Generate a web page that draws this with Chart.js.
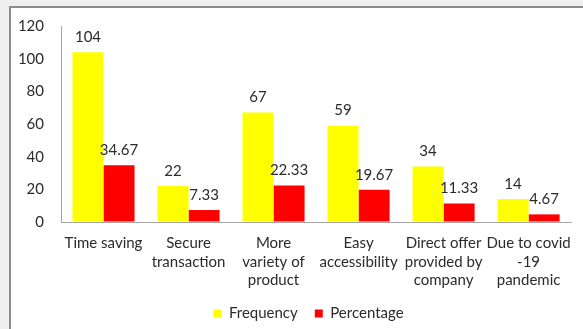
<!DOCTYPE html>
<html>
<head>
<meta charset="utf-8">
<script src="https://cdn.jsdelivr.net/npm/chart.js@4/dist/chart.umd.min.js"></script>
<style>
  html, body { margin: 0; padding: 0; width: 583px; height: 329px; overflow: hidden; background: #efefef; }
  #frame { position: absolute; left: 9px; top: 6px; width: 600px; height: 340px; background: #fff;
           border-top: 2px solid #8c8c8c; border-left: 2px solid #8c8c8c; box-sizing: border-box; }
  #wrap { position: absolute; left: 0; top: 0; width: 583px; height: 329px; }
</style>
</head>
<body>
<div id="frame"></div>
<div id="wrap"><canvas id="c" width="583" height="329"></canvas></div>
<script>
// Reasons for buying online: respondent counts and share of total
const categories = [
  ["Time saving"],
  ["Secure", "transaction"],
  ["More", "variety of", "product"],
  ["Easy", "accessibility"],
  ["Direct offer", "provided by", "company"],
  ["Due to covid", "-19", "pandemic"]
];
const frequency = [104, 22, 67, 59, 34, 14];
const percentage = [34.67, 7.33, 22.33, 19.67, 11.33, 4.67];
const yTicks = [0, 20, 40, 60, 80, 100, 120];

const FONT = "Lato, 'Open Sans', sans-serif";
const TEXT = "#2b2b2b";

// Writes each bar's value just above it
const valueLabels = {
  id: "valueLabels",
  afterDatasetsDraw(chart) {
    const ctx = chart.ctx;
    ctx.save();
    ctx.font = "15px " + FONT;
    ctx.fillStyle = TEXT;
    ctx.textAlign = "center";
    ctx.textBaseline = "middle";
    chart.data.datasets.forEach((ds, i) => {
      chart.getDatasetMeta(i).data.forEach((bar, j) => {
        ctx.fillText(String(ds.data[j]), bar.x, bar.y - 15);
      });
    });
    ctx.restore();
  }
};

// Nudges the legend box: centre it a little right of the canvas middle and lift it
const legendPlacement = {
  id: "legendPlacement",
  afterLayout(chart) {
    const lg = chart.legend;
    if (!lg) return;
    lg.left = 38;
    lg.top -= 5;
    lg.bottom -= 5;
  }
};

new Chart(document.getElementById("c"), {
  type: "bar",
  data: {
    labels: categories,
    datasets: [
      { label: "Frequency", data: frequency, backgroundColor: "#ffff00" },
      { label: "Percentage", data: percentage, backgroundColor: "#ff0000" }
    ]
  },
  options: {
    responsive: false,
    animation: false,
    layout: { padding: { left: 10, right: 4, top: 23, bottom: -7 } },
    datasets: { bar: { categoryPercentage: 0.73, barPercentage: 1.0 } },
    scales: {
      x: {
        grid: { display: true, color: "rgba(0,0,0,0)", drawTicks: false },
        border: { display: true, color: "#a6a6a6", width: 1 },
        ticks: { color: TEXT, font: { family: FONT, size: 15, lineHeight: 1.23 }, padding: 12, maxRotation: 0, autoSkip: false },
        afterFit(scale) { scale.height = 72; }
      },
      y: {
        min: 0, max: 120,
        grid: { display: true, color: "rgba(0,0,0,0)", drawTicks: false },
        border: { display: true, color: "#a6a6a6", width: 1 },
        ticks: {
          stepSize: 20, color: TEXT, font: { family: FONT, size: 15 }, padding: 17,
          callback: (v) => (yTicks.includes(v) ? String(v) : "")
        },
        afterFit(scale) { scale.width = 51; }
      }
    },
    plugins: {
      tooltip: { enabled: false },
      legend: {
        position: "bottom",
        labels: { color: TEXT, font: { family: FONT, size: 15 }, boxWidth: 8, boxHeight: 8, padding: 17 }
      }
    }
  },
  plugins: [valueLabels, legendPlacement]
});
</script>
</body>
</html>
